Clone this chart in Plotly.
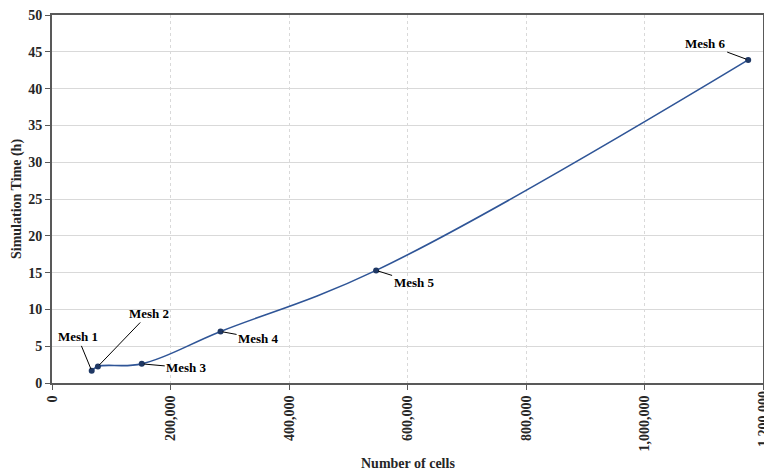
import plotly.graph_objects as go

mesh_names = ["Mesh 1", "Mesh 2", "Mesh 3", "Mesh 4", "Mesh 5", "Mesh 6"]
cells = [67000, 77500, 151500, 284500, 547000, 1175000]
sim_time_h = [1.65, 2.25, 2.6, 7.0, 15.3, 43.9]
x_ticks = [0, 200000, 400000, 600000, 800000, 1000000]
x_edge_tick = 1200000
y_ticks = [0, 5, 10, 15, 20, 25, 30, 35, 40, 45, 50]

# label offsets (pixels) from point to text
label_ax = [-14, 51, 45, 38, 38, -43]
label_ay = [-34, -53, 4, 7, 12, -16]

font_family = "Liberation Serif"

fig = go.Figure()
fig.add_trace(go.Scatter(
    x=cells, y=sim_time_h, mode="lines+markers",
    line=dict(color="#2F5597", width=1.6, shape="spline", smoothing=1.1),
    marker=dict(color="#1F3864", size=6),
    showlegend=False, cliponaxis=False,
))

for name, xv, yv, ax, ay in zip(mesh_names, cells, sim_time_h, label_ax, label_ay):
    fig.add_annotation(
        x=xv, y=yv, text="<b>%s</b>" % name, showarrow=True,
        arrowhead=0, arrowwidth=1, arrowcolor="black",
        ax=ax, ay=ay, standoff=2,
        font=dict(family=font_family, size=13, color="black"),
    )

# edge tick label (cut off at right edge as in the reference)
fig.add_annotation(
    x=x_edge_tick, y=0, xref="x", yref="paper", yanchor="top", xanchor="center",
    yshift=-6, text="<b>{:,}</b>".format(x_edge_tick), showarrow=False, textangle=-90,
    font=dict(family=font_family, size=14, color="#262626"),
)

# axis titles
fig.add_annotation(
    x=0.5, y=0, xref="paper", yref="paper", yanchor="middle", yshift=-80,
    text="<b>Number of cells</b>", showarrow=False,
    font=dict(family=font_family, size=14, color="#262626"),
)
fig.add_annotation(
    x=0, y=0.5, xref="paper", yref="paper", xanchor="center", xshift=-35,
    text="<b>Simulation Time (h)</b>", showarrow=False, textangle=-90,
    font=dict(family=font_family, size=14, color="#262626"),
)

fig.update_layout(
    width=764, height=474,
    margin=dict(l=52, r=1, t=15, b=91),
    paper_bgcolor="white", plot_bgcolor="white",
    font=dict(family=font_family, size=14, color="#262626"),
)
fig.update_xaxes(
    range=[0, 1200000], tickvals=x_ticks + [x_edge_tick], ticktext=["{:,}".format(v) for v in x_ticks] + [""],
    tickangle=-90,
    automargin=False,
    showline=True, linecolor="#595959", linewidth=2, mirror=True,
    ticks="outside", ticklen=5, tickcolor="#595959",
    showgrid=True, gridcolor="#d9d9d9", griddash="dot", gridwidth=1,
    zeroline=False,
    tickfont=dict(family=font_family, size=14, color="#262626", weight="bold"),
)
fig.update_yaxes(
    range=[0, 50], tickvals=y_ticks, automargin=False,
    showline=True, linecolor="#595959", linewidth=2, mirror=True,
    ticks="outside", ticklen=5, tickcolor="#595959",
    showgrid=True, gridcolor="#d9d9d9", gridwidth=1,
    zeroline=False,
    tickfont=dict(family=font_family, size=14, color="#262626", weight="bold"),
)

fig.write_html(
    "out.html",
    config={"displayModeBar": False},
    post_script="document.body.style.margin='0';document.body.style.overflow='hidden';",
)
